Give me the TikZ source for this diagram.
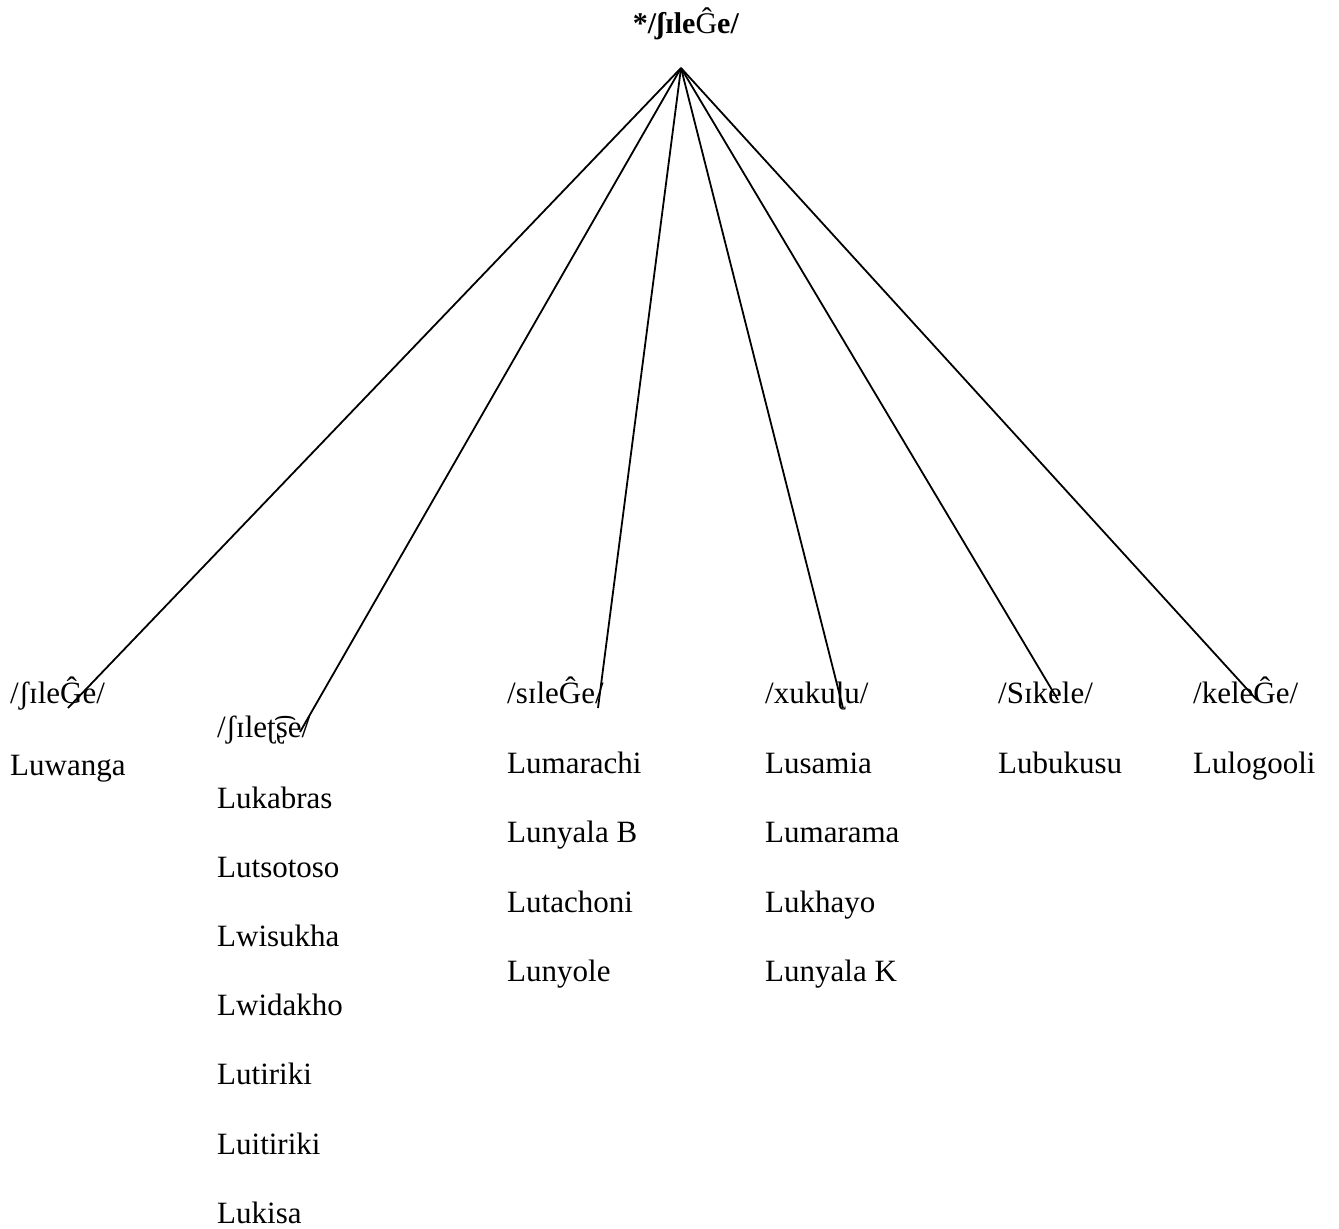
\documentclass[tikz,border=0pt]{standalone}
\usepackage{fontspec}
\setmainfont{Liberation Serif}
\begin{document}
\begin{tikzpicture}[x=1pt,y=1pt,
  lbl/.style={anchor=base west,inner sep=0pt,font=\fontsize{31}{31}\selectfont},
  branch/.style={line width=1.8pt}]
\useasboundingbox (0,0) rectangle (1339,-1229);
% root form
\node[anchor=base,inner sep=0pt,font=\fontsize{30}{30}\selectfont] (root) at (686,-33)
  {\textbf{*/ʃɪle}Ĝ\textbf{e/}};
\coordinate (apex) at (681,-68);
% reflexes
\node[lbl] (f1) at (10,-703) {/ʃɪleĜe/};
\node[lbl] (f2) at (217,-737) {/ʃɪleʈ͡ʂe/};
\node[lbl] (f3) at (507,-703) {/sɪleĜe/};
\node[lbl] (f4) at (765,-703) {/xukuɭu/};
\node[lbl] (f5) at (998,-703) {/Sɪkele/};
\node[lbl] (f6) at (1193,-703) {/keleĜe/};
% branch ends
\coordinate (e1) at (68,-708);
\coordinate (e2) at (300,-732);
\coordinate (e3) at (598,-708);
\coordinate (e4) at (843,-708);
\coordinate (e5) at (1058,-700);
\coordinate (e6) at (1257,-700);
\foreach \e in {e1,e2,e3,e4,e5,e6} \draw[branch] (apex) -- (\e);
% language lists
\node[lbl] (w1) at (10,-775) {Luwanga};
\foreach \t [count=\i from 0] in {Lukabras,Lutsotoso,Lwisukha,Lwidakho,Lutiriki,Luitiriki,Lukisa}
  \node[lbl] (k\i) at (217,-808-69.2*\i) {\t};
\foreach \t [count=\i from 0] in {Lumarachi,Lunyala B,Lutachoni,Lunyole}
  \node[lbl] (m\i) at (507,-773-69.5*\i) {\t};
\foreach \t [count=\i from 0] in {Lusamia,Lumarama,Lukhayo,Lunyala K}
  \node[lbl] (s\i) at (765,-773-69.5*\i) {\t};
\node[lbl] (b1) at (998,-773) {Lubukusu};
\node[lbl] (g1) at (1193,-773) {Lulogooli};
\end{tikzpicture}
\end{document}
